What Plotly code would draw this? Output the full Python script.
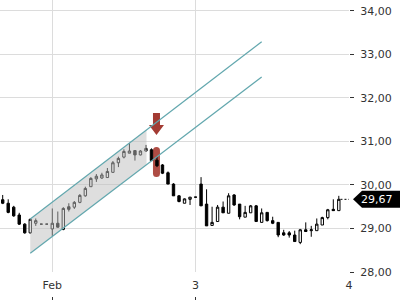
import numpy as np
import plotly.graph_objects as go

# ---- data ----
idx = list(range(62))
opens = [29.66, 29.58, 29.49, 29.31, 29.10, 28.90, 29.12, 29.10, 29.10, 28.99,
         29.12, 28.98, 29.50, 29.49, 29.60, 29.75, 29.96, 30.14, 30.16, 30.17,
         30.29, 30.51, 30.64, 30.73, 30.79, 30.69, 30.78, 30.81, 30.57, 30.46,
         30.28, 30.02, 29.75, 29.58, 29.67, 29.72, 30.02, 29.56, 29.07, 29.16,
         29.49, 29.35, 29.77, 29.56, 29.26, 29.36, 29.52, 29.14, 29.37, 29.18,
         29.14, 28.90, 28.90, 28.85, 28.68, 28.97, 28.95, 28.95, 29.08, 29.25,
         29.44, 29.41]
highs = [29.77, 29.67, 29.52, 29.36, 29.12, 29.23, 29.23, 29.10, 29.10, 29.46,
         29.39, 29.49, 29.58, 29.63, 29.79, 29.96, 30.18, 30.25, 30.28, 30.39,
         30.55, 30.65, 30.82, 30.96, 30.79, 30.80, 30.92, 30.84, 30.65, 30.48,
         30.31, 30.04, 29.77, 29.69, 29.72, 29.72, 30.18, 29.90, 29.50, 29.54,
         29.62, 29.81, 29.79, 29.56, 29.52, 29.54, 29.54, 29.46, 29.37, 29.27,
         29.14, 28.97, 28.94, 28.95, 28.99, 29.14, 29.06, 29.23, 29.27, 29.45,
         29.67, 29.75]
lows = [29.56, 29.35, 29.27, 29.08, 28.88, 28.88, 29.06, 29.10, 29.10, 28.83,
        29.02, 28.96, 29.39, 29.45, 29.58, 29.73, 29.96, 30.07, 30.14, 30.16,
        30.28, 30.41, 30.61, 30.73, 30.56, 30.68, 30.77, 30.55, 30.41, 30.25,
        30.02, 29.75, 29.60, 29.58, 29.54, 29.72, 29.52, 29.06, 29.07, 29.16,
        29.36, 29.35, 29.52, 29.21, 29.26, 29.36, 29.16, 29.14, 29.16, 29.10,
        28.80, 28.83, 28.79, 28.70, 28.64, 28.93, 28.81, 28.95, 29.08, 29.21,
        29.41, 29.41]
closes = [29.58, 29.37, 29.29, 29.10, 28.90, 29.21, 29.18, 29.10, 29.10, 29.12,
          29.03, 29.46, 29.44, 29.60, 29.76, 29.92, 30.15, 30.20, 30.23, 30.31,
          30.51, 30.61, 30.77, 30.78, 30.69, 30.78, 30.84, 30.56, 30.44, 30.27,
          30.02, 29.75, 29.62, 29.68, 29.72, 29.72, 29.52, 29.06, 29.14, 29.49,
          29.36, 29.75, 29.54, 29.27, 29.37, 29.52, 29.16, 29.36, 29.18, 29.12,
          28.85, 28.85, 28.85, 28.70, 28.97, 28.93, 28.97, 29.10, 29.25, 29.43,
          29.41, 29.67]

tick_pos = [9, 35, 62.85]
tick_labels = ["Feb", "3", "4"]
y_ticks = [28, 29, 30, 31, 32, 33, 34]

# trend channel
chan_x = [5, 47]
chan_upper = [29.22, 33.29]
chan_lower = [28.43, 32.48]
fill_end = 26.1

signal_idx = 28
signal_top = 30.874
signal_bottom = 30.184
arrow_tip = 31.15

last_price = closes[-1]

x_range = [-0.49, 62.85]
y_range = [28, 34.25]

# ---- figure ----
fig = go.Figure()

fx = [chan_x[0], chan_x[0], fill_end, fill_end]
fy = [chan_lower[0], chan_upper[0],
      float(np.interp(fill_end, chan_x, chan_upper)),
      float(np.interp(fill_end, chan_x, chan_lower))]
fig.add_trace(go.Scatter(x=fx, y=fy, fill="toself", mode="none",
                         fillcolor="rgba(190,190,190,0.5)", hoverinfo="skip",
                         showlegend=False))
for ys in (chan_upper, chan_lower):
    fig.add_trace(go.Scatter(x=chan_x, y=ys, mode="lines",
                             line=dict(color="#62a7ae", width=1.2),
                             hoverinfo="skip", showlegend=False))

fig.add_trace(go.Candlestick(
    x=idx, open=opens, high=highs, low=lows, close=closes,
    increasing=dict(line=dict(color="black", width=1), fillcolor="white"),
    decreasing=dict(line=dict(color="black", width=1), fillcolor="black"),
    whiskerwidth=0, hoverinfo="skip", showlegend=False))

fig.add_trace(go.Scatter(x=[idx[-1] + 0.3, x_range[1]], y=[last_price, last_price],
                         mode="lines", line=dict(color="black", width=1, dash="2px,2px"),
                         hoverinfo="skip", showlegend=False))

# invisible trace for bottom tick axis
fig.add_trace(go.Scatter(x=[x_range[0]], y=[y_range[0]], xaxis="x2", mode="markers",
                         marker=dict(opacity=0), hoverinfo="skip", showlegend=False))

shapes = [
    dict(type="path", xref="x", yref="y", xsizemode="pixel", ysizemode="pixel",
         xanchor=signal_idx, yanchor=(signal_top + signal_bottom) / 2,
         path="M -4 11.5 Q -4 15 -0.5 15 Q 3 15 3 11.5 L 3 -11.5 "
              "Q 3 -15 -0.5 -15 Q -4 -15 -4 -11.5 Z",
         fillcolor="rgba(160,45,35,0.85)", line=dict(width=0), layer="below"),
    dict(type="path", xref="x", yref="y", xsizemode="pixel", ysizemode="pixel",
         xanchor=signal_idx, yanchor=arrow_tip,
         path="M -0.5 0 L -8 10 L -4 10 L -4 22 L 3 22 L 3 10 L 7 10 Z",
         fillcolor="#a33b33", line=dict(width=0), layer="below"),
    dict(type="path", xref="paper", yref="y", xsizemode="pixel", ysizemode="pixel",
         xanchor=1, yanchor=last_price,
         path="M -47 0 L -38 8.5 L 0 8.5 L 0 -8.5 L -38 -8.5 Z",
         fillcolor="black", line=dict(width=0), layer="above"),
]

font = dict(family="DejaVu Sans", size=11, color="#333")

fig.update_layout(
    width=400, height=300,
    margin=dict(l=0, r=0, t=0, b=0, autoexpand=False),
    paper_bgcolor="white", plot_bgcolor="white",
    separators=",.",
    font=font,
    boxgap=0.38,
    shapes=shapes,
    annotations=[dict(xref="paper", yref="y", x=1, y=last_price, xanchor="right",
                      xshift=-5, yanchor="middle", showarrow=False,
                      text=f"{last_price:.2f}".replace(".", ","),
                      font=dict(family="DejaVu Sans", size=11, color="white"))],
    xaxis=dict(domain=[0, 349 / 400], range=x_range, type="linear",
               tickvals=tick_pos, ticktext=tick_labels, ticks="",
               showgrid=True, gridcolor="#dcdcdc", gridwidth=1, zeroline=False,
               showline=False, rangeslider=dict(visible=False), automargin=False,
               ticklabelstandoff=5, tickfont=font),
    xaxis2=dict(overlaying="x", anchor="free", position=0, range=x_range,
                type="linear", tickvals=tick_pos, ticks="inside", ticklen=3,
                tickcolor="#333", showticklabels=False, showgrid=False,
                zeroline=False, showline=False, automargin=False),
    yaxis=dict(domain=[28 / 300, 1], range=y_range, side="right",
               tickvals=y_ticks, tickformat=".2f", ticks="outside", ticklen=4,
               tickcolor="#333", showgrid=True, gridcolor="#dcdcdc", gridwidth=1,
               zeroline=False, showline=False, ticklabelstandoff=4, tickfont=font,
               automargin=False),
)

fig.write_html("out.html")
